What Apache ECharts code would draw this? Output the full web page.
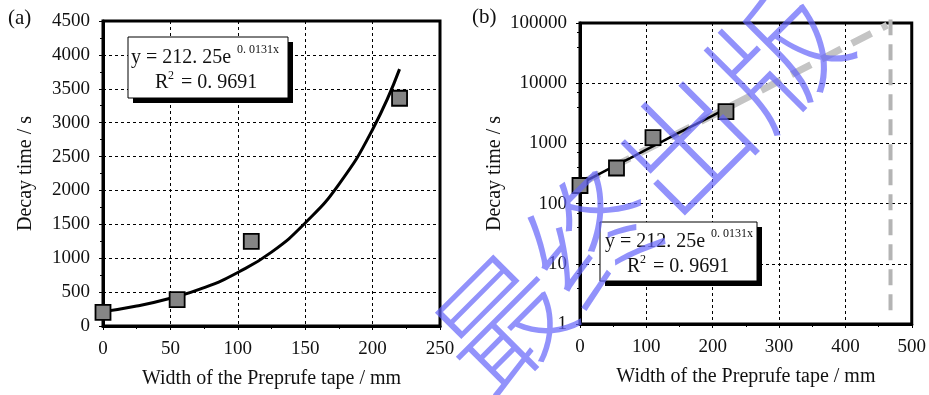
<!DOCTYPE html>
<html>
<head>
<meta charset="utf-8">
<script src="https://cdn.jsdelivr.net/npm/echarts@6/dist/echarts.min.js"></script>
<style>
html,body{margin:0;padding:0;background:#fff;}
#c{width:929px;height:395px;}
</style>
</head>
<body>
<div id="c"></div>
<script>
// ---- data ----
const widthMM   = [0, 55, 110, 220];          // measured points (x)
const decayTime = [200, 390, 1250, 3360];     // measured points (y, s)
const fitX = [0, 25, 50, 75, 100, 125, 150, 175, 200, 220];           // trend line x
const fitY = [212, 295, 410, 565, 790, 1090, 1520, 2090, 2900, 3790]; // trend line y
const extX = [0, 463];        // grey extrapolated line (panel b)
const extY = [212, 92000];
const limitX = [468, 468];    // grey vertical dashed limit (panel b)
const limitY = [1.7, 114000];
const xTicksA = [0, 50, 100, 150, 200, 250];
const yTicksA = [0, 500, 1000, 1500, 2000, 2500, 3000, 3500, 4000, 4500];
const xTicksB = [0, 100, 200, 300, 400, 500];
const yTicksB = [1, 10, 100, 1000, 10000, 100000];
const eqMain = 'y = 212. 25e';
const eqExp = '0. 0131x';
const eqR = 'R';
const eqR2 = '= 0. 9691';
const xName = 'Width of the Preprufe tape / mm';
const yName = 'Decay time / s';
const watermark = ['最', '终', '出', '版'];

const pairs = (xs, ys) => xs.map((x, i) => [x, ys[i]]);
const serif = 'Liberation Serif';
const labelStyle = {color: '#111', fontFamily: serif, fontSize: 19};

function xAxisCfg(grid, ticks) {
  return {
    gridIndex: grid, type: 'value',
    min: ticks[0], max: ticks[ticks.length - 1], interval: ticks[1] - ticks[0],
    axisLine: {show: true, onZero: false, lineStyle: {color: '#000', width: 3}},
    axisTick: {show: true, length: 4, lineStyle: {color: '#000', width: 1}},
    minorTick: {show: true, splitNumber: 2, length: 3, lineStyle: {color: '#000'}},
    splitLine: {show: true, lineStyle: {color: '#000', width: 1, type: [3, 3]}},
    axisLabel: Object.assign({margin: 14, formatter: v => String(v)}, labelStyle),
    name: xName, nameLocation: 'middle', nameGap: 43,
    nameTextStyle: {color: '#111', fontFamily: serif, fontSize: 20}
  };
}

const option = {
  animation: false,
  backgroundColor: '#fff',
  grid: [
    {left: 103, top: 21, width: 337, height: 305, show: true, borderColor: '#000', borderWidth: 3},
    {left: 580, top: 23, width: 333, height: 301, show: true, borderColor: '#000', borderWidth: 3}
  ],
  xAxis: [xAxisCfg(0, xTicksA), xAxisCfg(1, xTicksB)],
  yAxis: [
    {
      gridIndex: 0, type: 'value', min: yTicksA[0], max: yTicksA[yTicksA.length - 1],
      interval: yTicksA[1] - yTicksA[0],
      axisLine: {show: true, lineStyle: {color: '#000', width: 3}},
      axisTick: {show: true, length: 4, lineStyle: {color: '#000'}},
      minorTick: {show: true, splitNumber: 2, length: 3, lineStyle: {color: '#000'}},
      splitLine: {show: true, lineStyle: {color: '#000', width: 1, type: [3, 3]}},
      axisLabel: Object.assign({margin: 13, formatter: v => String(v)}, labelStyle),
      name: yName, nameLocation: 'middle', nameGap: 67, nameRotate: 90,
      nameTextStyle: {color: '#111', fontFamily: serif, fontSize: 20}
    },
    {
      gridIndex: 1, type: 'log', logBase: 10, min: yTicksB[0], max: yTicksB[yTicksB.length - 1],
      axisLine: {show: true, lineStyle: {color: '#000', width: 3}},
      axisTick: {show: true, length: 4, lineStyle: {color: '#000'}},
      minorTick: {show: true, splitNumber: 3, length: 3, lineStyle: {color: '#000'}},
      splitLine: {show: true, lineStyle: {color: '#000', width: 1, type: [3, 3]}},
      axisLabel: Object.assign({margin: 13, formatter: v => String(Math.round(v))}, labelStyle),
      name: yName, nameLocation: 'middle', nameGap: 75, nameRotate: 90,
      nameTextStyle: {color: '#111', fontFamily: serif, fontSize: 20}
    }
  ],
  series: [
    {
      type: 'line', xAxisIndex: 0, yAxisIndex: 0, data: pairs(fitX, fitY),
      smooth: true, symbol: 'none', lineStyle: {color: '#000', width: 3}, z: 3
    },
    {
      type: 'scatter', xAxisIndex: 0, yAxisIndex: 0, data: pairs(widthMM, decayTime),
      symbol: 'rect', symbolSize: 15,
      itemStyle: {color: '#858585', borderColor: '#000', borderWidth: 1.8, opacity: 1}, z: 5
    },
    {
      type: 'line', xAxisIndex: 1, yAxisIndex: 1, data: pairs(extX, extY),
      symbol: 'none', lineStyle: {color: '#c4c4c4', width: 7, type: [22, 12]}, z: 2
    },
    {
      type: 'line', xAxisIndex: 1, yAxisIndex: 1, data: pairs(limitX, limitY),
      symbol: 'none', clip: false, lineStyle: {color: '#b4b4b4', width: 4, type: [16, 9]}, z: 2
    },
    {
      type: 'line', xAxisIndex: 1, yAxisIndex: 1, data: pairs(fitX, fitY),
      symbol: 'none', lineStyle: {color: '#000', width: 2.5}, z: 3
    },
    {
      type: 'scatter', xAxisIndex: 1, yAxisIndex: 1, data: pairs(widthMM, decayTime),
      symbol: 'rect', symbolSize: 15,
      itemStyle: {color: '#858585', borderColor: '#000', borderWidth: 1.8, opacity: 1}, z: 5
    }
  ],
  graphic: []
};

function eqBox(x, y, w, h, tx, ty, rx) {
  const f = {fontFamily: serif, fill: '#111'};
  return [
    {type: 'rect', shape: {x: x + 5, y: y + 5, width: w, height: h}, style: {fill: '#000'}, z: 10},
    {type: 'rect', shape: {x: x, y: y, width: w, height: h}, style: {fill: '#fff', stroke: '#000', lineWidth: 1}, z: 11},
    {type: 'text', x: tx, y: ty, style: Object.assign({text: eqMain, fontSize: 20, textVerticalAlign: 'middle'}, f), z: 12},
    {type: 'text', x: tx + 106, y: ty - 8, style: Object.assign({text: eqExp, fontSize: 12, textVerticalAlign: 'middle'}, f), z: 12},
    {type: 'text', x: rx, y: ty + 25, style: Object.assign({text: eqR, fontSize: 20, textVerticalAlign: 'middle'}, f), z: 12},
    {type: 'text', x: rx + 13, y: ty + 18, style: Object.assign({text: '2', fontSize: 12, textVerticalAlign: 'middle'}, f), z: 12},
    {type: 'text', x: rx + 26, y: ty + 25, style: Object.assign({text: eqR2, fontSize: 20, textVerticalAlign: 'middle'}, f), z: 12}
  ];
}
option.graphic = option.graphic.concat(eqBox(128, 37, 160, 61, 131, 58, 155));
option.graphic = option.graphic.concat(eqBox(600, 222, 157, 59, 605, 242, 627));
option.graphic.push(
  {type: 'text', x: 8, y: 18, style: {text: '(a)', fontFamily: serif, fontSize: 21, fill: '#111', textVerticalAlign: 'middle'}, z: 12},
  {type: 'text', x: 472, y: 17, style: {text: '(b)', fontFamily: serif, fontSize: 21, fill: '#111', textVerticalAlign: 'middle'}, z: 12}
);
// watermark
const wmPos = [[502, 322], [592, 235], [684, 145], [778, 55]];
watermark.forEach((ch, i) => {
  option.graphic.push({
    type: 'text', x: wmPos[i][0], y: wmPos[i][1], rotation: Math.PI / 4,
    style: {text: ch, fontFamily: 'Noto Sans CJK SC', fontSize: 128, fontWeight: 200,
            fill: 'rgba(100,100,250,0.7)', textAlign: 'center', textVerticalAlign: 'middle'},
    z: 50, silent: true
  });
});

const chart = echarts.init(document.getElementById('c'), null, {renderer: 'canvas'});
chart.setOption(option);
</script>
</body>
</html>
